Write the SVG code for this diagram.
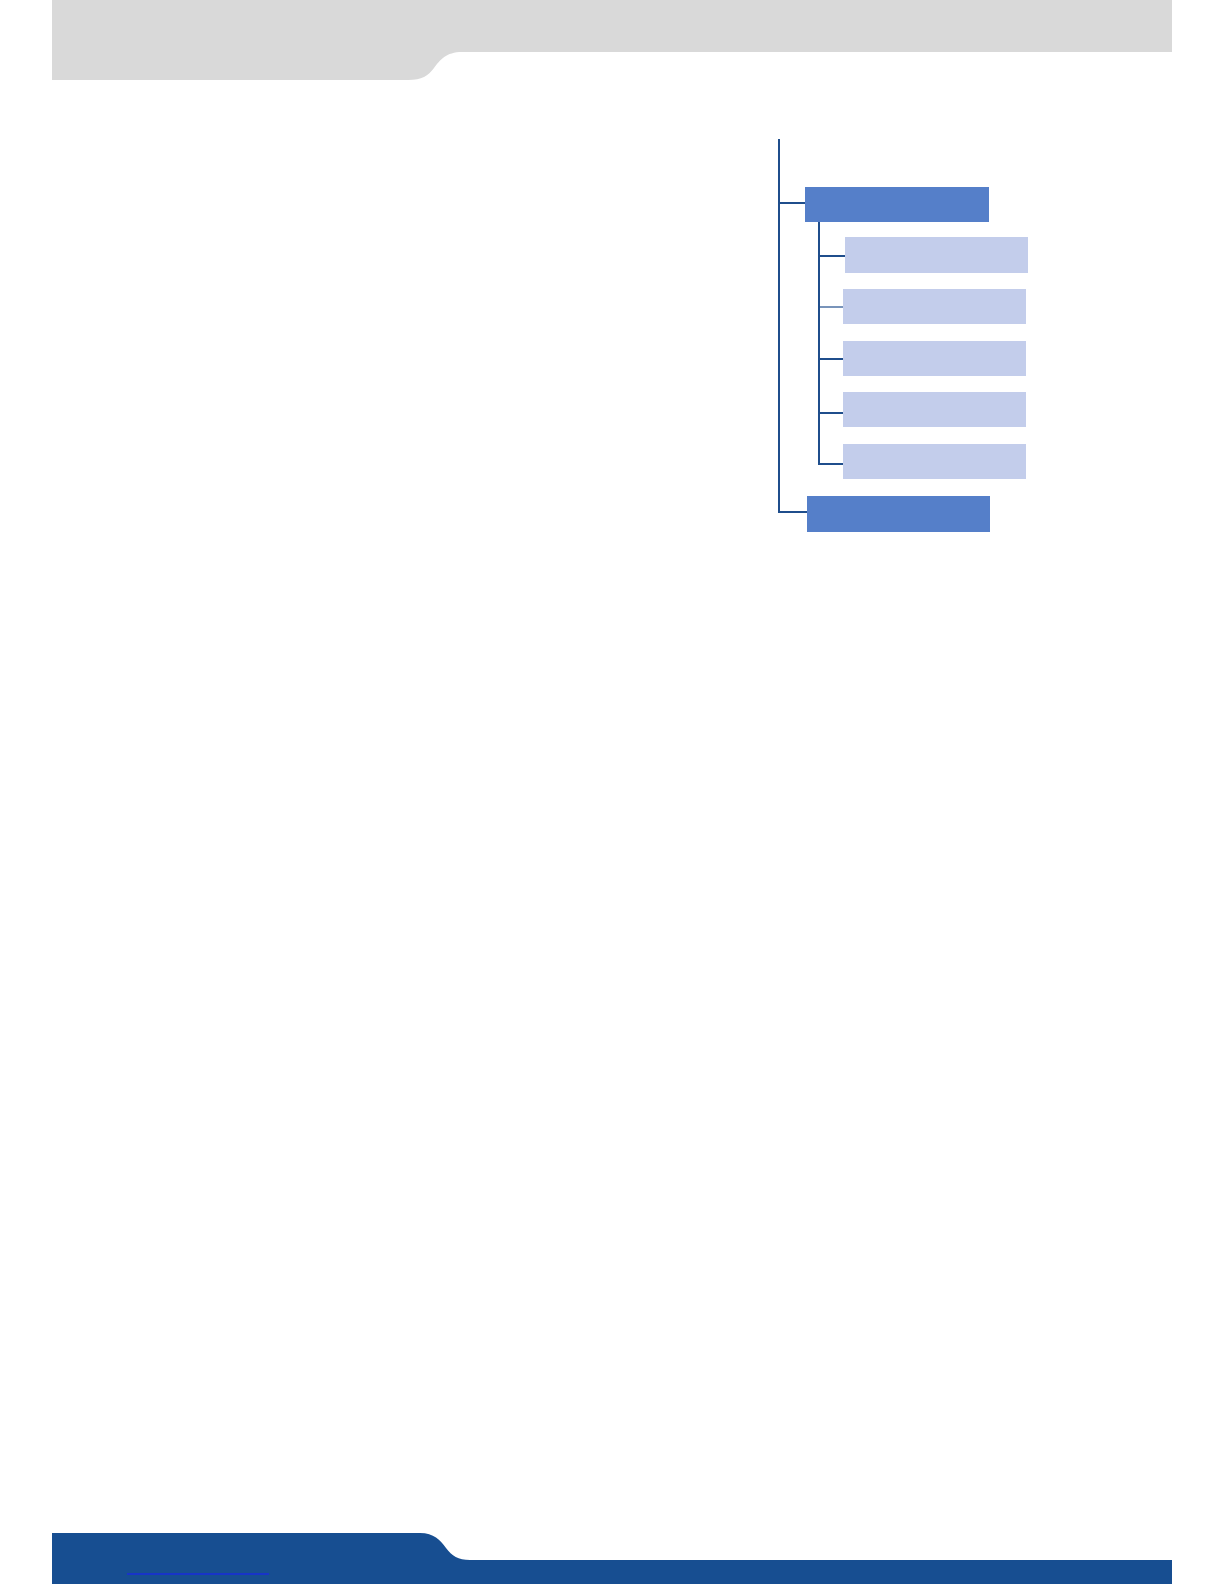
<svg xmlns="http://www.w3.org/2000/svg" width="1224" height="1584" viewBox="0 0 1224 1584">
<style>
.dark{fill:#557fc9}
.light{fill:#c3cdeb}
.ln{stroke:#1f4e8c;stroke-width:2;fill:none}
.thin{stroke:#1f4e8c;stroke-width:1.2;fill:none}
</style>
<rect width="1224" height="1584" fill="#ffffff"/>
<g id="header">
<path d="M52 0 H1172 V52 H462 C446 52 440 60 434 68 C428 76 422 80 408 80 H52 Z" fill="#d9d9d9"/>
</g>
<g id="footer">
<path d="M52 1533 H420 C434 1533 440 1540 446 1548 C452 1556 458 1560 470 1560 H1172 V1584 H52 Z" fill="#174e91"/>
<line x1="127" y1="1574" x2="269" y2="1574" stroke="#1a1aff" stroke-width="1.2"/>
</g>
<g id="connectors">
<line class="ln" x1="779" y1="139" x2="779" y2="513"/>
<line class="ln" x1="779" y1="203" x2="805" y2="203"/>
<line class="ln" x1="779" y1="512" x2="807" y2="512"/>
<line class="ln" x1="819" y1="222" x2="819" y2="465"/>
<line class="ln" x1="819" y1="256" x2="845" y2="256"/>
<line class="thin" x1="819" y1="307" x2="843" y2="307"/>
<line class="ln" x1="819" y1="359" x2="843" y2="359"/>
<line class="ln" x1="819" y1="413" x2="843" y2="413"/>
<line class="ln" x1="819" y1="464" x2="843" y2="464"/>
</g>
<g id="node-top"><rect class="dark" x="805" y="187" width="184" height="35"/></g>
<g id="node-sub1"><rect class="light" x="845" y="237" width="183" height="36"/></g>
<g id="node-sub2"><rect class="light" x="843" y="289" width="183" height="35"/></g>
<g id="node-sub3"><rect class="light" x="843" y="341" width="183" height="35"/></g>
<g id="node-sub4"><rect class="light" x="843" y="392" width="183" height="35"/></g>
<g id="node-sub5"><rect class="light" x="843" y="444" width="183" height="35"/></g>
<g id="node-bottom"><rect class="dark" x="807" y="496" width="183" height="36"/></g>
</svg>
